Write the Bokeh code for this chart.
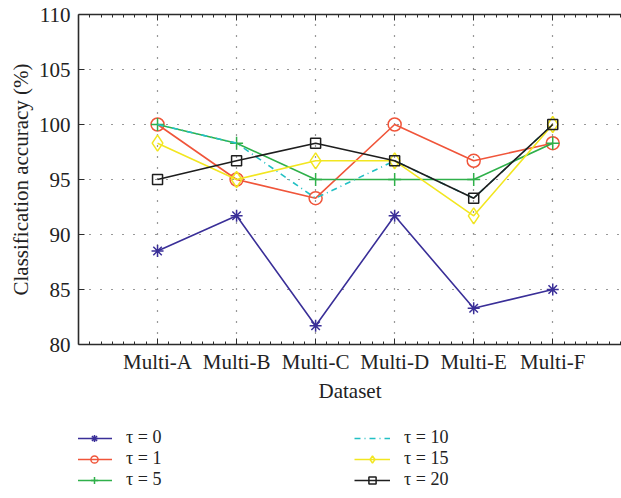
from bokeh.plotting import figure
from bokeh.layouts import column
from bokeh.models import (Range1d, FixedTicker, LinearAxis, Legend, LegendItem)
from bokeh.embed import file_html
from bokeh.resources import INLINE

datasets = ["Multi-A", "Multi-B", "Multi-C", "Multi-D", "Multi-E", "Multi-F"]
tau0 = [88.5, 91.7, 81.7, 91.7, 83.3, 85.0]
tau1 = [100.0, 95.0, 93.3, 100.0, 96.7, 98.3]
tau5 = [100.0, 98.3, 95.0, 95.0, 95.0, 98.3]
tau10 = [100.0, 98.3, 93.3, 96.7, 93.3, 100.0]
tau15 = [98.3, 95.0, 96.7, 96.7, 91.7, 100.0]
tau20 = [95.0, 96.7, 98.3, 96.7, 93.3, 100.0]
y_ticks = [80, 85, 90, 95, 100, 105, 110]

xs = list(range(1, len(datasets) + 1))
FONT = "Liberation Serif"
AX = "#2b2b2b"

p = figure(width=621, height=420, output_backend="svg", toolbar_location=None,
           x_range=Range1d(0, 6.87), y_range=Range1d(80, 110),
           min_border_left=78, min_border_right=0, min_border_top=14,
           min_border_bottom=76, x_axis_location="below")
p.outline_line_color = None
p.background_fill_color = "white"
p.border_fill_color = "white"

minor = [i / 7 for i in range(0, 49) if i % 7 != 0]

xa = p.xaxis[0]
xa.ticker = FixedTicker(ticks=xs, minor_ticks=minor)
xa.major_label_overrides = {x: d for x, d in zip(xs, datasets)}
xa.axis_label = "Dataset"

ya = p.yaxis[0]
ya.ticker = FixedTicker(ticks=y_ticks)
ya.axis_label = "Classification accuracy (%)"

top = LinearAxis(ticker=FixedTicker(ticks=xs, minor_ticks=minor),
                 major_label_overrides={x: "" for x in xs},
                 major_label_standoff=0)
p.add_layout(top, "above")

for ax in [xa, ya, top]:
    ax.axis_line_color = AX
    ax.axis_line_width = 1.6
    ax.major_tick_line_color = AX
    ax.minor_tick_line_color = AX
    ax.major_tick_in = 6
    ax.major_tick_out = 0
    ax.minor_tick_in = 3
    ax.minor_tick_out = 0
    ax.major_label_text_font = FONT
    ax.major_label_text_color = "#222222"
    ax.axis_label_text_font = FONT
    ax.axis_label_text_font_style = "normal"
    ax.axis_label_text_color = "#222222"
ya.minor_tick_line_color = None
xa.major_label_text_font_size = "21px"
ya.major_label_text_font_size = "21px"
xa.axis_label_text_font_size = "21px"
ya.axis_label_text_font_size = "21px"
top.major_label_text_font_size = "10px"
xa.major_label_standoff = 5
ya.major_label_standoff = 8
xa.axis_label_standoff = 2
ya.axis_label_standoff = 3

for g in [p.xgrid[0], p.ygrid[0]]:
    g.grid_line_color = "#333333"
    g.grid_line_dash = "1 10"
    g.grid_line_width = 1.2
p.xgrid[0].ticker = FixedTicker(ticks=xs)
p.ygrid[0].ticker = FixedTicker(ticks=y_ticks)

series = [
    ("τ = 0", tau0, "#3a2f98", "asterisk", "solid", 12),
    ("τ = 1", tau1, "#f0553a", "circle", "solid", 13),
    ("τ = 5", tau5, "#2fb04a", "cross", "solid", 13),
    ("τ = 10", tau10, "#22c0c4", None, "6 4 1 4", 0),
    ("τ = 15", tau15, "#f2e620", "diamond", "solid", 16),
    ("τ = 20", tau20, "#1e1e1e", "square", "solid", 10),
]

# legend strip below the chart: a second, axis-free figure whose copies of the
# series lie outside its view, so only the legend shows
q = figure(width=621, height=78, output_backend="svg", toolbar_location=None,
           x_range=Range1d(100, 101), y_range=Range1d(100, 101),
           x_axis_type=None, y_axis_type=None,
           min_border=0, outline_line_color=None)
q.grid.visible = False
q.background_fill_color = "white"
q.border_fill_color = "white"

items = []
for label, ys, color, marker, dash, size in series:
    p.line(xs, ys, line_color=color, line_width=1.6, line_dash=dash)
    rs = [q.line(xs, ys, line_color=color, line_width=1.6, line_dash=dash)]
    if marker is not None:
        p.scatter(xs, ys, marker=marker, size=size, line_color=color,
                  fill_color=None, line_width=1.5)
        rs.append(q.scatter(xs, ys, marker=marker, size=size, line_color=color,
                            fill_color=None, line_width=1.5))
    items.append(LegendItem(label=label, renderers=rs))

legend = Legend(items=items, ncols=2, location=(-2, 8),
                glyph_width=36, glyph_height=18, label_height=18,
                label_width=228, label_standoff=14, spacing=0,
                padding=0, margin=0, border_line_color=None,
                background_fill_color=None,
                label_text_font=FONT, label_text_font_size="18px",
                label_text_color="#222222")
q.add_layout(legend, "center")

layout = column(p, q, spacing=0)
open("out.html", "w").write(file_html(layout, INLINE))
